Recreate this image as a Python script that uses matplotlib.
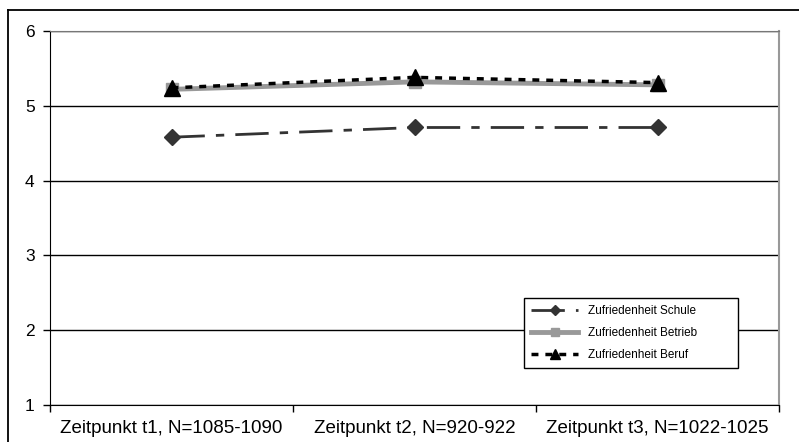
import matplotlib
matplotlib.use('Agg')
import matplotlib.pyplot as plt
from matplotlib.lines import Line2D
import numpy as np

plt.rcParams['font.family'] = ['Liberation Sans', 'DejaVu Sans']

zeitpunkte = ['Zeitpunkt t1, N=1085-1090', 'Zeitpunkt t2, N=920-922', 'Zeitpunkt t3, N=1022-1025']
schule = [4.58, 4.71, 4.71]
betrieb = [5.22, 5.32, 5.28]
beruf = [5.24, 5.38, 5.31]

fig = plt.figure(figsize=(7.99, 4.42), dpi=100)

# outer chart frame (only top and left edge inside the image)
fig.add_artist(Line2D([8 / 799, 8 / 799], [0, 1 - 10 / 442], color='black', lw=1.3, transform=fig.transFigure))
fig.add_artist(Line2D([8 / 799, 1], [1 - 10 / 442, 1 - 10 / 442], color='black', lw=1.3, transform=fig.transFigure))

ax = fig.add_axes([50 / 799, 37 / 442, 729 / 799, 374 / 442])

x = np.arange(len(zeitpunkte))
ax.plot(x, betrieb, color='#999999', lw=3.5, marker='s', ms=8, mfc='#999999', mec='#999999',
        label='Zufriedenheit Betrieb', zorder=3)
ax.plot(x, schule, color='#333333', lw=2, dashes=(12, 4, 3, 4), marker='D', ms=8, mfc='#333333',
        mec='#333333', label='Zufriedenheit Schule', zorder=4)
ax.plot(x, beruf, color='black', lw=2.5, dashes=(2, 2), marker='^', ms=11, mfc='black',
        mec='black', label='Zufriedenheit Beruf', zorder=5)

ax.set_xlim(-0.5, 2.5)
ax.set_ylim(1, 6)
ax.set_yticks([1, 2, 3, 4, 5, 6])
ax.set_xticks(x)
ax.set_xticklabels(zeitpunkte, fontsize=13.5)
ax.set_xticks([-0.5, 0.5, 1.5, 2.5], minor=True)
ax.tick_params(axis='x', which='major', length=0, pad=11)
ax.tick_params(axis='x', which='minor', length=5, width=1, color='black', direction='out')
ax.tick_params(axis='y', length=5, width=1, direction='out', labelsize=12.5, pad=6)

ax.grid(axis='y', color='black', lw=1)
ax.set_axisbelow(True)
ax.spines['left'].set_color('black')
ax.spines['bottom'].set_color('black')
ax.spines['top'].set_color('#777777')
ax.spines['right'].set_color('#999999')
ax.spines['right'].set_linewidth(1.5)

handles, labels = ax.get_legend_handles_labels()
order = [1, 0, 2]
leg = ax.legend([handles[i] for i in order], [labels[i] for i in order],
                loc='lower left', bbox_to_anchor=(0.650, 0.099, 0.294, 0.214), mode='expand',
                fontsize=8.5, frameon=True, fancybox=False, borderaxespad=0,
                handlelength=4, labelspacing=0.85, borderpad=0.6, markerscale=0.65)
leg.get_frame().set_edgecolor('black')
leg.get_frame().set_linewidth(1)
leg.get_frame().set_alpha(1)

fig.savefig('out.png', dpi=100)
